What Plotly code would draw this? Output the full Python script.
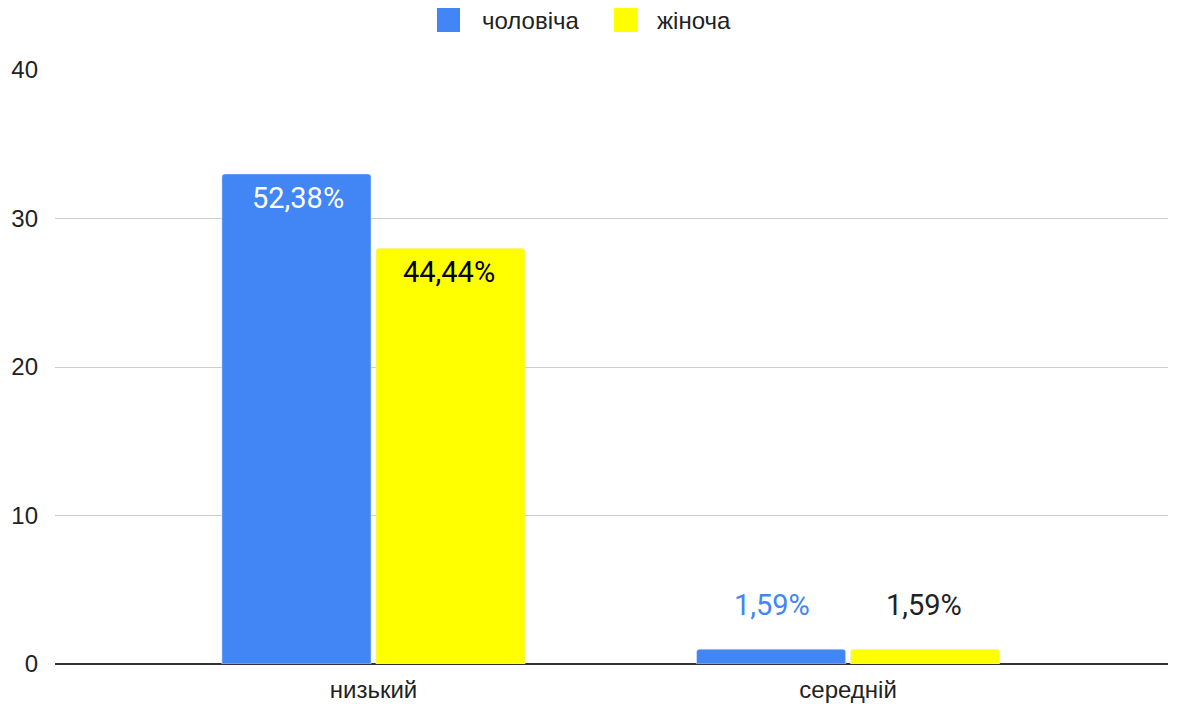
import plotly.graph_objects as go

categories = ["низький", "середній"]
male = [33, 1]
female = [28, 1]
male_labels = ["52,38%", "1,59%"]
female_labels = ["44,44%", "1,59%"]
series_names = ["чоловіча", "жіноча"]
y_ticks = [0, 10, 20, 30, 40]

BLUE = "#4285f4"
YELLOW = "#ffff00"
INSIDE_MIN = 5
OFF = 8  # page body margin
W, H = 1178 - OFF, 704 - OFF
# plot area in screen pixels: x 55..1168, y 70..664
L, T = 55 - OFF, 70 - OFF
R = W - (1168 - OFF)
B = H - (664 - OFF)
PW, PH = W - L - R, H - T - B


def px_x(px):
    return (px - OFF - L) / PW


def px_y(py):
    return (H - B - (py - OFF)) / PH


fig = go.Figure()
fig.add_trace(go.Bar(x=categories, y=male, name=series_names[0], marker_color=BLUE,
                     hoverinfo="skip", showlegend=False))
fig.add_trace(go.Bar(x=categories, y=female, name=series_names[1], marker_color=YELLOW,
                     hoverinfo="skip", showlegend=False))

# data labels
for vals, labels, in_color, out_color, off in [
        (male, male_labels, "white", BLUE, -0.16),
        (female, female_labels, "black", "#222222", 0.16)]:
    for i, (v, l) in enumerate(zip(vals, labels)):
        inside = v >= INSIDE_MIN
        fig.add_annotation(x=i + off, y=v, xref="x", yref="y", text=l,
                           showarrow=False, yanchor="middle",
                           yshift=-24 if inside else 44,
                           font=dict(color=in_color if inside else out_color,
                                     size=29, family="Roboto"))

# custom legend (large rounded squares)
legend_items = [(series_names[0], BLUE, 437, 480), (series_names[1], YELLOW, 614, 655)]
for name, color, sx, tx in legend_items:
    fig.add_shape(type="rect", xref="paper", yref="paper",
                  x0=px_x(sx), x1=px_x(sx + 23), y0=px_y(32), y1=px_y(8),
                  fillcolor=color, line=dict(width=0), layer="above")
    fig.add_annotation(xref="paper", yref="paper", x=px_x(tx), y=px_y(20),
                       xanchor="left", yanchor="middle", text=name, showarrow=False,
                       font=dict(size=24, color="#222222", family="Liberation Sans, Arial"))

fig.update_layout(
    width=W, height=H,
    margin=dict(l=L, r=R, t=T, b=B, autoexpand=False),
    plot_bgcolor="white", paper_bgcolor="white",
    barmode="group", bargap=0.351, bargroupgap=0.032,
    barcornerradius=3,
    font=dict(family="Liberation Sans, Arial", size=24, color="#222222"),
    showlegend=False,
)
fig.update_xaxes(type="category", range=[-0.671, 1.674], showgrid=False,
                 ticks="", showline=False, tickfont=dict(size=24), ticklabelstandoff=9)
fig.update_yaxes(range=[0, 40], tickvals=y_ticks, showgrid=True, gridcolor="#cccccc",
                 gridwidth=1, zeroline=True, zerolinecolor="#333333", zerolinewidth=2,
                 ticks="", ticklabelstandoff=16, tickfont=dict(size=24))

fig.write_html("out.html")
